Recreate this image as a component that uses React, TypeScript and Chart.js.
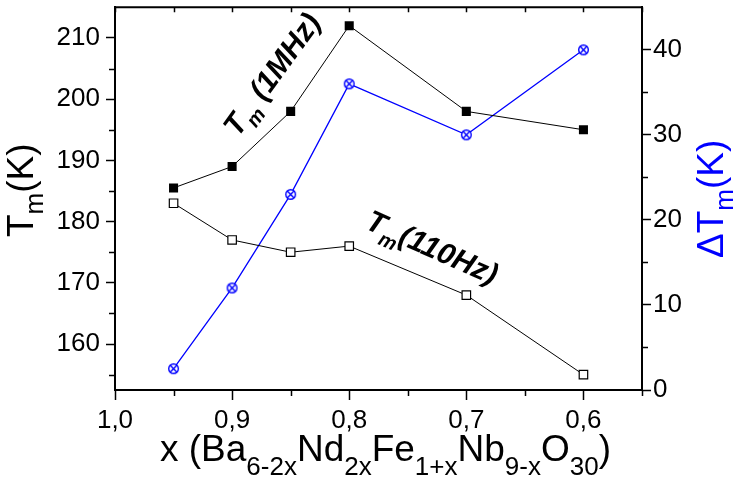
import React, { useEffect, useRef } from 'react';
import { Chart, registerables } from 'chart.js';

Chart.register(...registerables);

// ---- data ----
const X_VALUES = [0.95, 0.9, 0.85, 0.8, 0.7, 0.6];
const TM_1MHZ = [185.5, 189, 198, 212, 198, 195];
const TM_110HZ = [183, 177, 175, 176, 168, 155];
const DELTA_TM = [2.5, 12, 23, 36, 30, 40];

const X_TICKS = [1.0, 0.9, 0.8, 0.7, 0.6];
const X_MINOR = [0.95, 0.85, 0.75, 0.65, 0.55];
const Y_TICKS = [160, 170, 180, 190, 200, 210];
const Y_MINOR = [155, 165, 175, 185, 195, 205];
const Y1_TICKS = [0, 10, 20, 30, 40];
const Y1_MINOR = [5, 15, 25, 35];

const X_MIN = 0.55;
const X_MAX = 1.0;
const Y_MIN = 152.5;
const Y_MAX = 215;
const Y1_MIN = 0;
const Y1_MAX = 45;

const FONT = "'Liberation Sans', Arial, Helvetica, sans-serif";
const BLUE = '#0000ff';

type Part = { t: string; sub?: boolean };

function drawRich(
  ctx: CanvasRenderingContext2D,
  parts: Part[],
  x: number,
  y: number,
  angle: number,
  mainFont: string,
  subFont: string,
  subOffset: number,
  color: string
) {
  ctx.save();
  ctx.translate(x, y);
  ctx.rotate(angle);
  ctx.fillStyle = color;
  ctx.textAlign = 'left';
  ctx.textBaseline = 'alphabetic';
  let cx = 0;
  for (const p of parts) {
    ctx.font = p.sub ? subFont : mainFont;
    ctx.fillText(p.t, cx, p.sub ? subOffset : 0);
    cx += ctx.measureText(p.t).width;
  }
  ctx.restore();
}

function makeCircleX(): HTMLCanvasElement {
  const c = document.createElement('canvas');
  c.width = 13;
  c.height = 13;
  const g = c.getContext('2d')!;
  const r = 4.8;
  g.fillStyle = '#fff';
  g.strokeStyle = BLUE;
  g.lineWidth = 1.4;
  g.beginPath();
  g.arc(6.5, 6.5, r, 0, Math.PI * 2);
  g.fill();
  g.stroke();
  const d = r * Math.SQRT1_2;
  g.beginPath();
  g.moveTo(6.5 - d, 6.5 - d);
  g.lineTo(6.5 + d, 6.5 + d);
  g.moveTo(6.5 + d, 6.5 - d);
  g.lineTo(6.5 - d, 6.5 + d);
  g.stroke();
  return c;
}

const framePlugin = {
  id: 'frameAndTitles',
  afterDraw(chart: any) {
    const { ctx, chartArea } = chart;
    const { left, right, top, bottom } = chartArea;
    const sx = chart.scales.x;
    const sy = chart.scales.y;
    const sy1 = chart.scales.y1;
    ctx.save();
    ctx.strokeStyle = '#000';
    // top border
    ctx.lineWidth = 2;
    ctx.beginPath();
    ctx.moveTo(left - 1, top);
    ctx.lineTo(right + 1, top);
    ctx.stroke();
    ctx.lineWidth = 1.5;
    ctx.beginPath();
    // minor x ticks (bottom, outward)
    for (const v of X_MINOR) {
      const px = Math.round(sx.getPixelForValue(v)) + 0.5;
      ctx.moveTo(px, bottom);
      ctx.lineTo(px, bottom + 6);
    }
    // top inward ticks
    for (const v of [...X_TICKS, ...X_MINOR]) {
      const px = Math.round(sx.getPixelForValue(v)) + 0.5;
      ctx.moveTo(px, top);
      ctx.lineTo(px, top + 5);
    }
    // left minor ticks
    for (const v of Y_MINOR) {
      const py = Math.round(sy.getPixelForValue(v)) + 0.5;
      ctx.moveTo(left, py);
      ctx.lineTo(left - 6, py);
    }
    // right minor ticks
    for (const v of Y1_MINOR) {
      const py = Math.round(sy1.getPixelForValue(v)) + 0.5;
      ctx.moveTo(right, py);
      ctx.lineTo(right + 6, py);
    }
    ctx.stroke();
    ctx.restore();

    const main = `37px ${FONT}`;
    const sub = `26px ${FONT}`;
    // x title
    drawRich(
      ctx,
      [
        { t: 'x (Ba' },
        { t: '6-2x', sub: true },
        { t: 'Nd' },
        { t: '2x', sub: true },
        { t: 'Fe' },
        { t: '1+x', sub: true },
        { t: 'Nb' },
        { t: '9-x', sub: true },
        { t: 'O' },
        { t: '30', sub: true },
        { t: ')' },
      ],
      160,
      461,
      0,
      main,
      sub,
      14,
      '#000'
    );
    // left title
    drawRich(
      ctx,
      [{ t: 'T' }, { t: 'm', sub: true }, { t: '(K)' }],
      33,
      237,
      -Math.PI / 2,
      main,
      sub,
      10,
      '#000'
    );
    // right title
    drawRich(
      ctx,
      [{ t: '\u0394T' }, { t: 'm', sub: true }, { t: '(K)' }],
      723,
      258,
      -Math.PI / 2,
      main,
      sub,
      10,
      BLUE
    );
    // annotations
    const aMain = `italic bold 30px ${FONT}`;
    const aSub = `italic bold 20px ${FONT}`;
    drawRich(
      ctx,
      [{ t: 'T' }, { t: 'm', sub: true }, { t: ' (1MHz)' }],
      238,
      138,
      (-54 * Math.PI) / 180,
      aMain,
      aSub,
      9,
      '#000'
    );
    drawRich(
      ctx,
      [{ t: 'T' }, { t: 'm', sub: true }, { t: '(110Hz)' }],
      364,
      228,
      (24 * Math.PI) / 180,
      aMain,
      aSub,
      9,
      '#000'
    );
  },
};

function zeroPad(scale: any) {
  scale.paddingTop = 0;
  scale.paddingBottom = 0;
  scale.paddingLeft = 0;
  scale.paddingRight = 0;
}

export default function App() {
  const ref = useRef<HTMLCanvasElement>(null);

  useEffect(() => {
    document.body.style.margin = '0';
    const canvas = ref.current!;
    const circleX = makeCircleX();
    const tickFont = { family: FONT, size: 26 };

    const chart = new Chart(canvas, {
      type: 'line',
      data: {
        datasets: [
          {
            label: 'Tm(1MHz)',
            data: X_VALUES.map((x, i) => ({ x, y: TM_1MHZ[i] })),
            yAxisID: 'y',
            borderColor: '#000',
            borderWidth: 1,
            pointStyle: 'rect',
            pointRadius: 6.4,
            pointBackgroundColor: '#000',
            pointBorderColor: '#000',
            pointBorderWidth: 0,
            tension: 0,
          },
          {
            label: 'Tm(110Hz)',
            data: X_VALUES.map((x, i) => ({ x, y: TM_110HZ[i] })),
            yAxisID: 'y',
            borderColor: '#000',
            borderWidth: 1,
            pointStyle: 'rect',
            pointRadius: 6,
            pointBackgroundColor: '#fff',
            pointBorderColor: '#000',
            pointBorderWidth: 1.2,
            tension: 0,
          },
          {
            label: '\u0394Tm',
            data: X_VALUES.map((x, i) => ({ x, y: DELTA_TM[i] })),
            yAxisID: 'y1',
            borderColor: BLUE,
            borderWidth: 1.3,
            pointStyle: circleX as any,
            pointRadius: 6,
            tension: 0,
          },
        ],
      },
      options: {
        responsive: false,
        animation: false,
        devicePixelRatio: 1,
        layout: { padding: { top: 3, left: 0, right: 0, bottom: 0 } },
        plugins: { legend: { display: false }, tooltip: { enabled: false } },
        scales: {
          x: {
            type: 'linear',
            reverse: true,
            min: X_MIN,
            max: X_MAX,
            afterBuildTicks: (s: any) => {
              s.ticks = X_TICKS.map((v) => ({ value: v }));
            },
            afterFit: (s: any) => {
              s.height = 89;
              zeroPad(s);
            },
            ticks: {
              font: tickFont,
              color: '#000',
              padding: 5,
              maxRotation: 0,
              autoSkip: false,
              callback: (v: any) => Number(v).toFixed(1).replace('.', ','),
            },
            grid: {
              drawOnChartArea: false,
              tickLength: 10,
              tickWidth: 1.5,
              tickColor: '#000',
            },
            border: { display: true, color: '#000', width: 2 },
          },
          y: {
            type: 'linear',
            position: 'left',
            min: Y_MIN,
            max: Y_MAX,
            afterBuildTicks: (s: any) => {
              s.ticks = Y_TICKS.map((v) => ({ value: v }));
            },
            afterFit: (s: any) => {
              s.width = 115;
              zeroPad(s);
            },
            ticks: { font: tickFont, color: '#000', padding: 6 },
            grid: {
              drawOnChartArea: false,
              tickLength: 9,
              tickWidth: 1.5,
              tickColor: '#000',
            },
            border: { display: true, color: '#000', width: 2 },
          },
          y1: {
            type: 'linear',
            position: 'right',
            min: Y1_MIN,
            max: Y1_MAX,
            afterBuildTicks: (s: any) => {
              s.ticks = Y1_TICKS.map((v) => ({ value: v }));
            },
            afterFit: (s: any) => {
              s.width = 95;
              zeroPad(s);
            },
            ticks: { font: tickFont, color: '#000', padding: 2 },
            grid: {
              drawOnChartArea: false,
              tickLength: 9,
              tickWidth: 1.5,
              tickColor: '#000',
            },
            border: { display: true, color: '#000', width: 2 },
          },
        },
      },
      plugins: [framePlugin],
    } as any);

    return () => chart.destroy();
  }, []);

  return (
    <div style={{ position: 'fixed', left: 0, top: 0, width: 737, height: 479, background: '#fff' }}>
      <canvas ref={ref} width={737} height={479} style={{ display: 'block' }} />
    </div>
  );
}
